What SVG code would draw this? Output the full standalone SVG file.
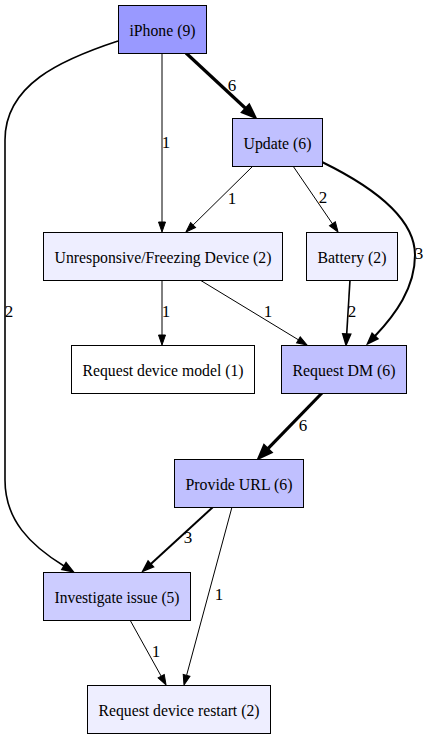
<svg xmlns="http://www.w3.org/2000/svg" width="429" height="739" viewBox="0 0 429 739" font-family="'Liberation Serif', 'Times New Roman', serif" font-size="17.5">
<style>
.n rect{stroke:#000;stroke-width:1}
text{fill:#000;text-anchor:middle}
.e text{font-size:17px}
.e path{fill:none;stroke:#000}
.w1{stroke-width:1}
.w2{stroke-width:1.6}
.w3{stroke-width:2}
.w6{stroke-width:3.2}
</style>
<defs>
<marker id="a1" markerUnits="userSpaceOnUse" markerWidth="12" markerHeight="10" refX="0" refY="3.5" orient="auto" overflow="visible"><path d="M0,0 L10,3.5 L0,7 Z" fill="#000" stroke="#000" stroke-width="1"/></marker>
<marker id="a2" markerUnits="userSpaceOnUse" markerWidth="13" markerHeight="10" refX="0" refY="4" orient="auto" overflow="visible"><path d="M0,0 L11,4 L0,8 Z" fill="#000" stroke="#000" stroke-width="1.5"/></marker>
<marker id="a3" markerUnits="userSpaceOnUse" markerWidth="16" markerHeight="12" refX="0" refY="5" orient="auto" overflow="visible"><path d="M0,0 L13,5 L0,10 Z" fill="#000" stroke="#000" stroke-width="2.5"/></marker>
</defs>
<g id="edges" class="e">
<path class="w6" d="M186,53 L245.7,108.5" marker-end="url(#a3)"/>
<path class="w1" d="M162,53 L162,222" marker-end="url(#a1)"/>
<path class="w2" d="M118,41 C60,60 5,85 5,140 L5,480 C5,520 30,545 64,566" marker-end="url(#a2)"/>
<path class="w1" d="M253,166 L193.1,225" marker-end="url(#a1)"/>
<path class="w1" d="M293,166 L332.4,223.7" marker-end="url(#a1)"/>
<path class="w3" d="M322,162 C365,183 415,215 415,255 C415,288 395,315 375,336" marker-end="url(#a2)"/>
<path class="w1" d="M200,280 L298.4,339.8" marker-end="url(#a1)"/>
<path class="w1" d="M162,280 L162,335" marker-end="url(#a1)"/>
<path class="w2" d="M350,280 L346.7,334" marker-end="url(#a2)"/>
<path class="w6" d="M322,393 L267.7,448.9" marker-end="url(#a3)"/>
<path class="w3" d="M213,507 L150.8,563.9" marker-end="url(#a2)"/>
<path class="w1" d="M232,507 L186.6,675.3" marker-end="url(#a1)"/>
<path class="w1" d="M130,620 L161.2,676.2" marker-end="url(#a1)"/>
<text x="232" y="91">6</text>
<text x="166" y="148">1</text>
<text x="232" y="204">1</text>
<text x="323" y="203">2</text>
<text x="419" y="259">3</text>
<text x="9" y="317">2</text>
<text x="166" y="317">1</text>
<text x="268" y="317">1</text>
<text x="352" y="317">2</text>
<text x="303" y="431">6</text>
<text x="188" y="543">3</text>
<text x="219" y="600">1</text>
<text x="156" y="657">1</text>
</g>
<g id="iphone" class="n"><rect x="118.5" y="5.5" width="88" height="48" fill="#9999ff"/><text x="162.5" y="35.5" textLength="66" lengthAdjust="spacingAndGlyphs">iPhone (9)</text></g>
<g id="update" class="n"><rect x="232.5" y="118.5" width="90" height="48" fill="#c0c0ff"/><text x="277.5" y="148.5" textLength="68" lengthAdjust="spacingAndGlyphs">Update (6)</text></g>
<g id="unresponsive" class="n"><rect x="43.5" y="232.5" width="239" height="48" fill="#eeeeff"/><text x="163" y="262.5" textLength="217" lengthAdjust="spacingAndGlyphs">Unresponsive/Freezing Device (2)</text></g>
<g id="battery" class="n"><rect x="306.5" y="232.5" width="91" height="48" fill="#eeeeff"/><text x="352" y="262.5" textLength="69" lengthAdjust="spacingAndGlyphs">Battery (2)</text></g>
<g id="reqmodel" class="n"><rect x="71.5" y="345.5" width="183" height="48" fill="#ffffff"/><text x="163" y="375.5" textLength="161" lengthAdjust="spacingAndGlyphs">Request device model (1)</text></g>
<g id="reqdm" class="n"><rect x="281.5" y="345.5" width="125" height="48" fill="#c0c0ff"/><text x="344" y="375.5" textLength="103" lengthAdjust="spacingAndGlyphs">Request DM (6)</text></g>
<g id="provideurl" class="n"><rect x="174.5" y="459.5" width="129" height="48" fill="#c0c0ff"/><text x="239" y="489.5" textLength="107" lengthAdjust="spacingAndGlyphs">Provide URL (6)</text></g>
<g id="investigate" class="n"><rect x="43.5" y="572.5" width="147" height="48" fill="#ccccff"/><text x="117" y="602.5" textLength="125" lengthAdjust="spacingAndGlyphs">Investigate issue (5)</text></g>
<g id="restart" class="n"><rect x="87.5" y="685.5" width="183" height="48" fill="#eeeeff"/><text x="179" y="715.5" textLength="161" lengthAdjust="spacingAndGlyphs">Request device restart (2)</text></g>
</svg>
